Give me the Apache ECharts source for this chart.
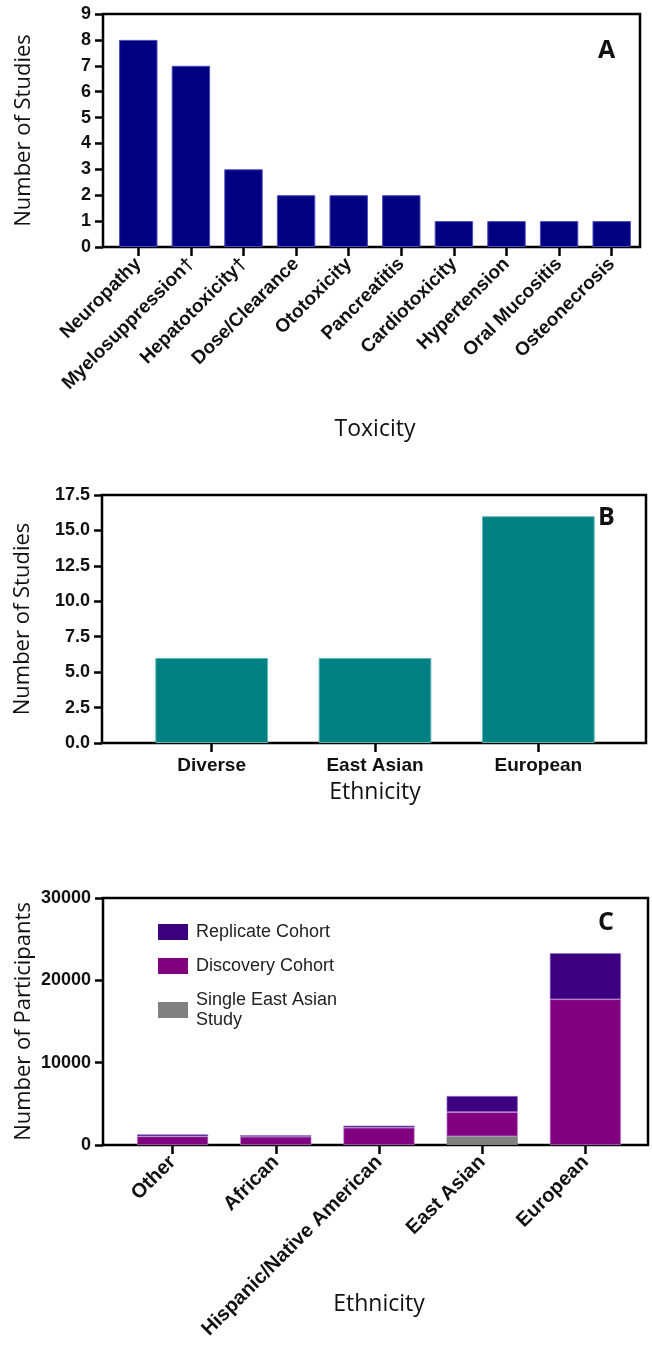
<!DOCTYPE html>
<html>
<head>
<meta charset="utf-8">
<script src="https://cdn.jsdelivr.net/npm/echarts@6/dist/echarts.min.js"></script>
<style>
html,body{margin:0;padding:0;background:#fff;}
#c{width:652px;height:1351px;}
</style>
</head>
<body>
<div id="c"></div>
<script>
// ---- Panel A data ----
const toxCategories = ['Neuropathy','Myelosuppression\u2020','Hepatotoxicity\u2020','Dose/Clearance','Ototoxicity','Pancreatitis','Cardiotoxicity','Hypertension','Oral Mucositis','Osteonecrosis'];
const toxStudies = [8,7,3,2,2,2,1,1,1,1];
// ---- Panel B data ----
const ethCategoriesB = ['Diverse','East Asian','European'];
const ethStudies = [6,6,16];
// ---- Panel C data ----
const ethCategoriesC = ['Other','African','Hispanic/Native American','East Asian','European'];
const singleEastAsian = [0,0,0,1050,0];
const discoveryCohort = [1050,1000,2100,2950,17700];
const replicateCohort = [250,200,250,1950,5600];

const numFont = 'Liberation Sans, Arial, sans-serif';
const titleFont = 'Open Sans, Lato, sans-serif';

const chart = echarts.init(document.getElementById('c'), null, {renderer:'canvas'});

function frameGrid(left,right,top,height){
  return {left:left,right:right,top:top,height:height,show:true,borderColor:'#000',borderWidth:2.5,backgroundColor:'transparent',containLabel:false,outerBoundsMode:'none'};
}
function catGrid(left,right,top,height){
  return {left:left,right:right,top:top,height:height,show:false,containLabel:false,outerBoundsMode:'none'};
}
function frameY(gi,min,max,interval,name,fmt){
  return {gridIndex:gi,type:'value',min:min,max:max,interval:interval,
    name:name,nameLocation:'middle',nameGap:68,nameMoveOverlap:false,
    nameTextStyle:{fontFamily:titleFont,fontSize:22,color:'#111'},
    axisLine:{show:false},
    axisTick:{show:true,length:8,lineStyle:{color:'#000',width:2.5}},
    axisLabel:{margin:12,fontFamily:numFont,fontWeight:'bold',fontSize:18,color:'#111',formatter:fmt},
    splitLine:{show:false}};
}
function hiddenY(gi,min,max){
  return {gridIndex:gi,type:'value',min:min,max:max,show:false};
}
function hiddenX(gi){
  return {gridIndex:gi,type:'value',min:0,max:1,show:false};
}
function catX(gi,data,rotate,name,nameGap,fs){
  return {gridIndex:gi,type:'category',data:data,
    name:name,nameLocation:'middle',nameGap:nameGap,nameMoveOverlap:false,
    nameTextStyle:{fontFamily:titleFont,fontSize:23,color:'#111'},
    axisLine:{show:false},
    axisTick:{show:true,alignWithLabel:true,length:9,lineStyle:{color:'#000',width:2.5}},
    axisLabel:{interval:0,rotate:rotate,margin:rotate?14:13,fontFamily:numFont,fontWeight:'bold',fontSize:fs,color:'#111'}};
}

const option = {
  backgroundColor:'#fff',
  animation:false,
  title:[
    {text:'A',left:598,top:38,padding:0,textStyle:{fontFamily:titleFont,fontWeight:'bold',fontSize:25,color:'#111'}},
    {text:'B',left:598,top:505,padding:0,textStyle:{fontFamily:titleFont,fontWeight:'bold',fontSize:25,color:'#111'}},
    {text:'C',left:598,top:910,padding:0,textStyle:{fontFamily:titleFont,fontWeight:'bold',fontSize:25,color:'#111'}}
  ],
  legend:{
    show:true,orient:'vertical',left:153,top:917,itemWidth:30,itemHeight:16,itemGap:14,icon:'rect',
    data:['Replicate Cohort','Discovery Cohort','Single East Asian Study'],
    formatter:function(n){return n==='Single East Asian Study'?'Single East Asian\nStudy':n;},
    textStyle:{fontFamily:numFont,fontSize:18,color:'#222',lineHeight:20,padding:[0,0,0,3]},
    itemStyle:{borderWidth:0},
    selectedMode:false
  },
  grid:[
    frameGrid(103,12,14,233),
    catGrid(112,14,14,233),
    frameGrid(102,6,495,248),
    catGrid(130,32,495,248),
    frameGrid(103,4,898,247),
    catGrid(121,15,898,247)
  ],
  xAxis:[
    hiddenX(0),
    catX(1,toxCategories,45,'Toxicity',171,19),
    hiddenX(2),
    catX(3,ethCategoriesB,0,'Ethnicity',38,19),
    hiddenX(4),
    catX(5,ethCategoriesC,45,'Ethnicity',148,20)
  ],
  yAxis:[
    frameY(0,0,9,1,'Number of Studies',function(v){return String(v);}),
    hiddenY(1,0,9),
    frameY(2,0,17.5,2.5,'Number of Studies',function(v){return v.toFixed(1);}),
    hiddenY(3,0,17.5),
    frameY(4,0,30000,10000,'Number of Participants',function(v){return String(v);}),
    hiddenY(5,0,30000)
  ],
  series:[
    {type:'bar',name:'Toxicity',xAxisIndex:1,yAxisIndex:1,data:toxStudies,barCategoryGap:'27%',
      itemStyle:{color:'#000080',borderColor:'#4a4ac0',borderWidth:1}},
    {type:'bar',name:'Ethnicity',xAxisIndex:3,yAxisIndex:3,data:ethStudies,barCategoryGap:'31%',
      itemStyle:{color:'#008080',borderColor:'#5fb5b5',borderWidth:1}},
    {type:'bar',name:'Single East Asian Study',xAxisIndex:5,yAxisIndex:5,stack:'c',data:singleEastAsian,barCategoryGap:'31%',
      itemStyle:{color:'#808080',borderWidth:0}},
    {type:'bar',name:'Discovery Cohort',xAxisIndex:5,yAxisIndex:5,stack:'c',data:discoveryCohort,barCategoryGap:'31%',
      itemStyle:{color:'#800080',borderColor:'#b88ac8',borderWidth:0.7}},
    {type:'bar',name:'Replicate Cohort',xAxisIndex:5,yAxisIndex:5,stack:'c',data:replicateCohort,barCategoryGap:'31%',
      itemStyle:{color:'#3d0080',borderColor:'#9a78c8',borderWidth:0.7}}
  ]
};
chart.setOption(option);
</script>
</body>
</html>
